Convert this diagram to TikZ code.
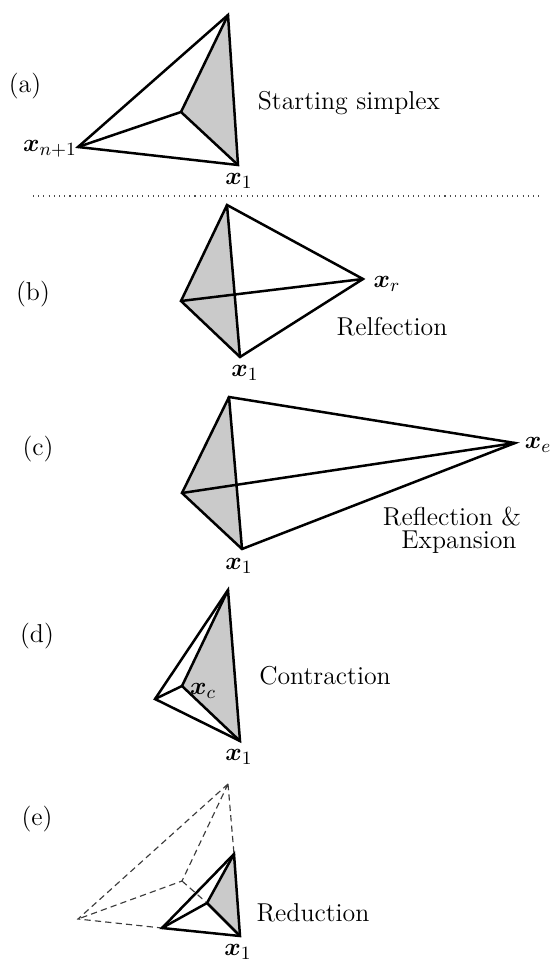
\documentclass[tikz,border=0pt]{standalone}
\usepackage{amsmath}
\usepackage{amsbsy}
\definecolor{simplexgrey}{RGB}{202,202,202}
\definecolor{dashgrey}{RGB}{60,60,60}
\tikzset{
  sedge/.style={line width=1.2pt,line join=miter,line cap=round,black},
  greyfill/.style={fill=simplexgrey,draw=none},
  ghost/.style={dash pattern=on 3pt off 2pt,line width=0.55pt,dashgrey},
  lab/.style={inner sep=0pt,font=\fontsize{12.4}{14}\selectfont,text=black},
}
\newcommand{\pv}[3]{%
  \coordinate (#1) at (#2,#3);}
\newcommand{\bx}{\boldsymbol{x}}
\begin{document}
\begin{tikzpicture}[x=0.48pt,y=-0.48pt]
\useasboundingbox (0,0) rectangle (550,960);
% (a)
\pv{at}{228}{15}\pv{ac}{181}{112}\pv{al}{78}{147}\pv{ab}{238}{165}
\fill[greyfill] (at)--(ac)--(ab)--cycle;
\draw[sedge] (at)--(al)--(ab)--cycle;
\draw[sedge] (at)--(ac) (al)--(ac) (ab)--(ac);
\node[lab] (la) at (25,86) {(a)};
\node[lab] (xa) at (50,149) {$\bx_{n+1}$};
\node[lab] (xa1) at (239,181) {$\bx_1$};
\node[lab] (ta) at (349,103) {Starting simplex};
\coordinate (d1) at (33,196);\coordinate (d2) at (541,196);
\draw[line width=0.5pt,dotted,black!70] (d1)--(d2);
% (b)
\pv{bt}{227}{205}\pv{bl}{181}{301}\pv{bb}{240}{357}\pv{br}{363}{279}
\fill[greyfill] (bt)--(bl)--(bb)--cycle;
\draw[sedge] (bt)--(bl)--(bb)--(br)--cycle;
\draw[sedge] (bt)--(bb) (bl)--(br);
\node[lab] (lb) at (33,294) {(b)};
\node[lab] (xr) at (387,284) {$\bx_r$};
\node[lab] (xb1) at (245,373) {$\bx_1$};
\node[lab] (tb) at (392,327) {Relfection};
% (c)
\pv{ct}{229}{397}\pv{cl}{182}{493}\pv{cb}{242}{549}\pv{cr}{515}{443}
\fill[greyfill] (ct)--(cl)--(cb)--cycle;
\draw[sedge] (ct)--(cl)--(cb)--(cr)--cycle;
\draw[sedge] (ct)--(cb) (cl)--(cr);
\node[lab] (lc) at (38,449) {(c)};
\node[lab] (xe) at (538,445) {$\bx_e$};
\node[lab] (xc1) at (239,566) {$\bx_1$};
\node[lab] (tc1) at (452,517) {Reflection \&};
\node[lab] (tc2) at (459,542) {Expansion};
% (d)
\pv{dt}{228}{590}\pv{dc}{182}{686}\pv{dl}{155}{699}\pv{db}{240}{741}
\fill[greyfill] (dt)--(dc)--(db)--cycle;
\draw[sedge] (dt)--(dl)--(db)--cycle;
\draw[sedge] (dt)--(dc) (dl)--(dc) (db)--(dc);
\node[lab] (ld) at (37,636) {(d)};
\node[lab] (xc) at (203,691) {$\bx_c$};
\node[lab] (xd1) at (239,757) {$\bx_1$};
\node[lab] (td) at (325,676) {Contraction};
% (e)
\pv{et}{228}{784}\pv{ec}{182}{881}\pv{el}{78}{919}
\pv{st}{234}{854}\pv{sc}{207}{903}\pv{sl}{162}{928}\pv{eb}{240}{936}
\draw[ghost] (et)--(el)--(sl) (et)--(ec)--(el) (et)--(st) (ec)--(sc);
\fill[greyfill] (st)--(sc)--(eb)--cycle;
\draw[sedge] (st)--(sl)--(eb)--cycle;
\draw[sedge] (st)--(sc) (sl)--(sc) (eb)--(sc);
\node[lab] (le) at (37,819) {(e)};
\node[lab] (xe1) at (238,952) {$\bx_1$};
\node[lab] (te) at (313,913) {Reduction};
\end{tikzpicture}
\end{document}
